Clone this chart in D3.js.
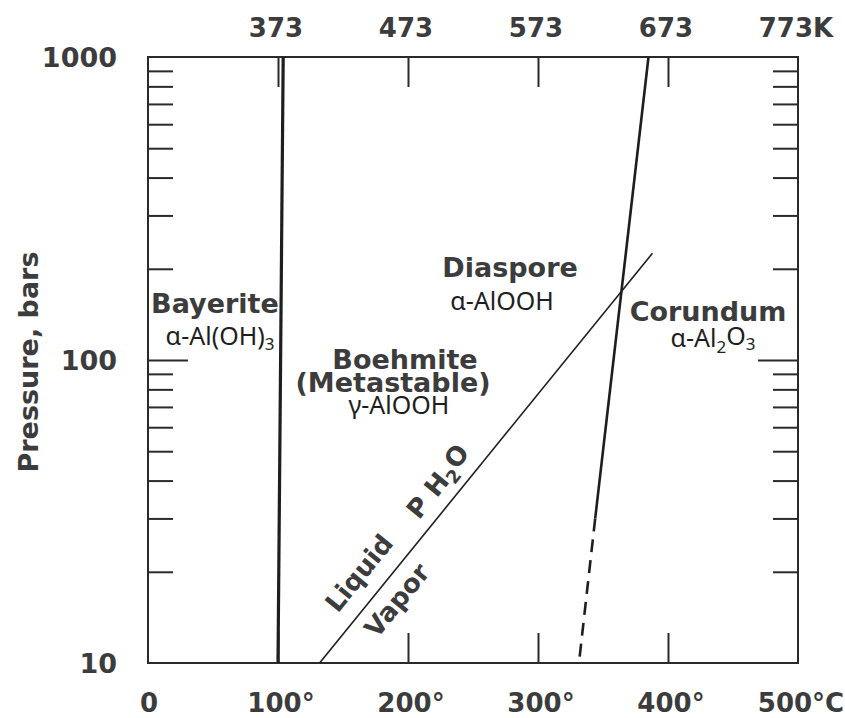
<!DOCTYPE html>
<html>
<head>
<meta charset="utf-8">
<script src="https://cdn.jsdelivr.net/npm/d3@7"></script>
<style>
  body { margin: 0; background: #fff; }
  .lbl { font-family: "DejaVu Sans", sans-serif; font-weight: bold; fill: #3c3c3c; }
  .frm { font-family: "Noto Sans", sans-serif; fill: #1e1e1e; }
</style>
</head>
<body>
<script>
// axis values
var celsiusTicks = [0, 100, 200, 300, 400, 500];
var celsiusLabels = ["0", "100°", "200°", "300°", "400°", "500°C"];
var kelvinTicks = [100, 200, 300, 400, 500];
var kelvinLabels = ["373", "473", "573", "673", "773K"];
var pressureTicks = [10, 100, 1000];
var pressureLabels = ["10", "100", "1000"];
var pressureMinor = [20, 30, 40, 50, 60, 70, 80, 90, 200, 300, 400, 500, 600, 700, 800, 900];

// phase boundaries (temperature °C, pressure bars)
var bayeriteLine = [{t: 104, p: 1000}, {t: 100, p: 10}];
var corundumLine = [{t: 385, p: 1000}, {t: 344, p: 30}];
var corundumDashed = [{t: 344, p: 30}, {t: 331.5, p: 10}];
var vaporLine = [{t: 132, p: 10}, {t: 388, p: 225}];

// region labels
var names = [
    {text: "Bayerite", t: 51.5, p: 143},
    {text: "Diaspore", t: 278.5, p: 188},
    {text: "Corundum", t: 430.8, p: 134.5},
    {text: "Boehmite", t: 197.7, p: 93.5},
    {text: "(Metastable)", t: 188.5, p: 78.5}
];
var formulas = [
    {text: "α-Al(OH)_3", t: 55.4, p: 112},
    {text: "α-AlOOH", t: 272.3, p: 146},
    {text: "α-Al_2O_3", t: 434.6, p: 110},
    {text: "γ-AlOOH", t: 193, p: 66.3}
];
var slanted = [
    {text: "Liquid", t: 162.3, p: 19.8},
    {text: "P H_2O", t: 223.5, p: 39.6},
    {text: "Vapor", t: 191.5, p: 16.1}
];

(function () {
    var width = 845, height = 718;
    var pLeft = 148, pRight = 798, pTop = 57, pBottom = 663;

    var svg = d3.select("body").append("svg")
        .attr("width", width)
        .attr("height", height);

    var x = d3.scaleLinear().domain([0, 500]).range([pLeft, pRight]);
    var y = d3.scaleLog().domain([10, 1000]).range([pBottom, pTop]);

    // frame
    svg.append("rect")
        .attr("x", pLeft).attr("y", pTop)
        .attr("width", pRight - pLeft).attr("height", pBottom - pTop)
        .attr("fill", "none").attr("stroke", "#2a2a2a").attr("stroke-width", 2);

    function styleAxis(g) {
        g.select(".domain").remove();
        g.selectAll(".tick line").attr("stroke", "#2a2a2a").attr("stroke-width", 2);
        g.selectAll(".tick text").remove();
    }

    // pressure ticks, pointing inward
    svg.append("g").attr("transform", "translate(" + pLeft + ",0)")
        .call(d3.axisLeft(y).tickValues(pressureMinor).tickSize(-25).tickFormat(""))
        .call(styleAxis);
    svg.append("g").attr("transform", "translate(" + pLeft + ",0)")
        .call(d3.axisLeft(y).tickValues([100]).tickSize(-40).tickFormat(""))
        .call(styleAxis);
    svg.append("g").attr("transform", "translate(" + pRight + ",0)")
        .call(d3.axisRight(y).tickValues(pressureMinor).tickSize(-25).tickFormat(""))
        .call(styleAxis);
    svg.append("g").attr("transform", "translate(" + pRight + ",0)")
        .call(d3.axisRight(y).tickValues([100]).tickSize(-40).tickFormat(""))
        .call(styleAxis);

    // temperature ticks
    svg.append("g").attr("transform", "translate(0," + pBottom + ")")
        .call(d3.axisBottom(x).tickValues([100, 200, 300, 400]).tickSize(-30).tickFormat(""))
        .call(styleAxis);
    svg.append("g").attr("transform", "translate(0," + pTop + ")")
        .call(d3.axisTop(x).tickValues([100, 200, 300, 400]).tickSize(-30).tickFormat(""))
        .call(styleAxis);

    // tick labels
    svg.selectAll(".ylab").data(pressureTicks).enter().append("text")
        .attr("class", "lbl")
        .attr("x", 117)
        .attr("y", function (d) { return y(d) + 10; })
        .attr("text-anchor", "end")
        .style("font-size", "27px")
        .text(function (d, i) { return pressureLabels[i]; });

    svg.selectAll(".xlab").data(celsiusTicks).enter().append("text")
        .attr("class", "lbl")
        .attr("x", function (d) { return x(d) + (d > 0 ? 3 : 1); })
        .attr("y", 712)
        .attr("text-anchor", "middle")
        .style("font-size", "26px")
        .text(function (d, i) { return celsiusLabels[i]; });

    svg.selectAll(".klab").data(kelvinTicks).enter().append("text")
        .attr("class", "lbl")
        .attr("x", function (d) { return x(d) - 2; })
        .attr("y", 37)
        .attr("text-anchor", "middle")
        .style("font-size", "26px")
        .text(function (d, i) { return kelvinLabels[i]; });

    svg.append("text")
        .attr("class", "lbl")
        .attr("transform", "translate(38," + (y(100) + 2) + ") rotate(-90)")
        .attr("text-anchor", "middle")
        .style("font-size", "27px")
        .text("Pressure, bars");

    // boundaries
    var line = d3.line()
        .x(function (d) { return x(d.t); })
        .y(function (d) { return y(d.p); });

    svg.append("path").datum(bayeriteLine)
        .attr("d", line).attr("fill", "none")
        .attr("stroke", "#1e1e1e").attr("stroke-width", 3.2);
    svg.append("path").datum(corundumLine)
        .attr("d", line).attr("fill", "none")
        .attr("stroke", "#1e1e1e").attr("stroke-width", 2.6);
    svg.append("path").datum(corundumDashed)
        .attr("d", line).attr("fill", "none")
        .attr("stroke", "#1e1e1e").attr("stroke-width", 2.6)
        .attr("stroke-dasharray", "13,8");
    svg.append("path").datum(vaporLine)
        .attr("d", line).attr("fill", "none")
        .attr("stroke", "#1e1e1e").attr("stroke-width", 1.6);

    // text with _n subscripts
    function addRich(sel, str, subSize) {
        var parts = str.split(/_(\d)/);
        parts.forEach(function (s, i) {
            if (!s) return;
            if (i % 2 === 1) {
                sel.append("tspan").attr("dy", "0.3em").style("font-size", subSize).text(s);
            } else {
                var ts = sel.append("tspan").text(s);
                if (i > 0) ts.attr("dy", "-0.3em");
            }
        });
    }

    svg.selectAll(".name").data(names).enter().append("text")
        .attr("class", "lbl")
        .attr("x", function (d) { return x(d.t); })
        .attr("y", function (d) { return y(d.p); })
        .attr("text-anchor", "middle")
        .style("font-size", "27px")
        .text(function (d) { return d.text; });

    svg.selectAll(".formula").data(formulas).enter().append("text")
        .attr("class", "frm")
        .attr("x", function (d) { return x(d.t); })
        .attr("y", function (d) { return y(d.p); })
        .attr("text-anchor", "middle")
        .style("font-size", "25px")
        .each(function (d) { addRich(d3.select(this), d.text, "17px"); });

    var ang = Math.atan2(y(vaporLine[1].p) - y(vaporLine[0].p),
        x(vaporLine[1].t) - x(vaporLine[0].t)) * 180 / Math.PI;

    svg.selectAll(".slant").data(slanted).enter().append("text")
        .attr("class", "lbl")
        .attr("transform", function (d) {
            return "translate(" + x(d.t) + "," + y(d.p) + ") rotate(" + ang + ")";
        })
        .attr("text-anchor", "middle")
        .attr("dy", "0.35em")
        .style("font-size", "26px")
        .each(function (d) { addRich(d3.select(this), d.text, "18px"); });
}());
</script>
</body>
</html>
